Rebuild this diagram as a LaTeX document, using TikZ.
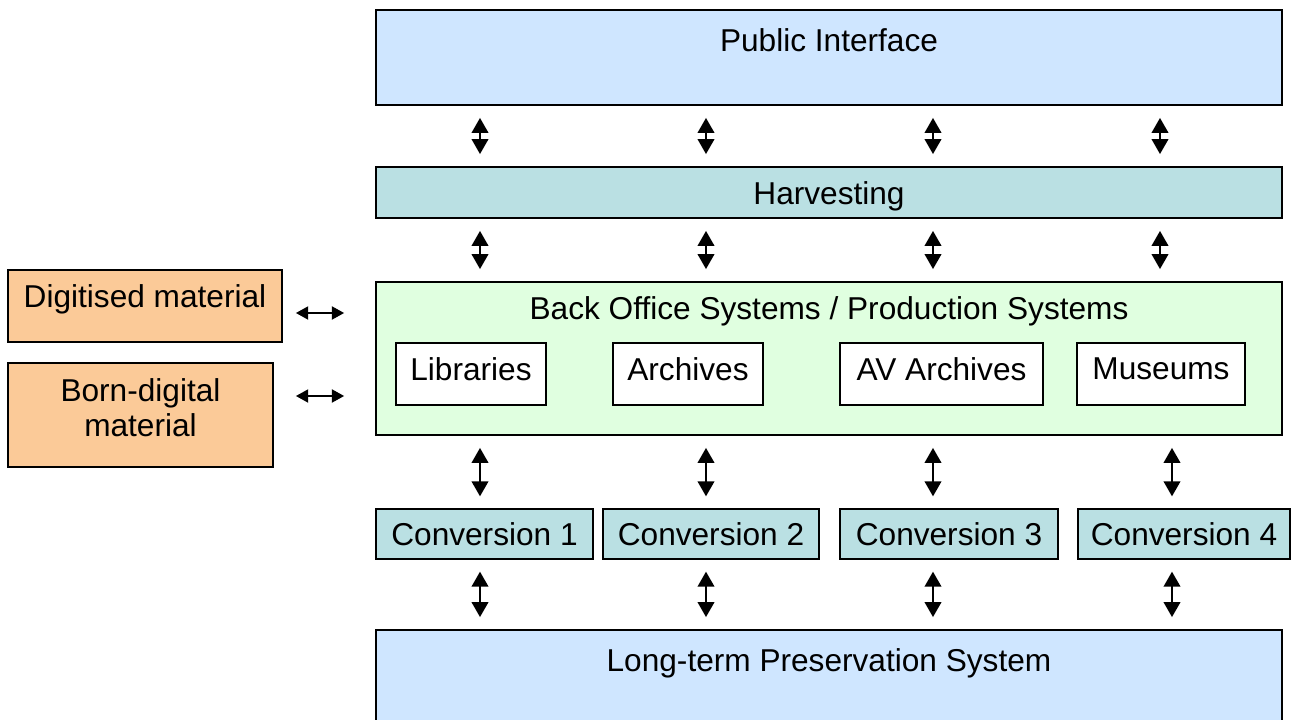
\documentclass[tikz,border=0pt]{standalone}
\usepackage{fontspec}
\setmainfont{Liberation Sans}
\usepackage{xcolor}
\usepackage{tikz}
\usetikzlibrary{arrows.meta}
\definecolor{paleBlue}{HTML}{CFE6FF}
\definecolor{paleTeal}{HTML}{BAE0E3}
\definecolor{paleGreen}{HTML}{E0FFE0}
\definecolor{paleOrange}{HTML}{FBCA98}

\begin{document}
\begin{tikzpicture}[
    x=0.02cm, y=-0.02cm,
    font=\fontsize{18}{20}\selectfont,
    layer/.style={rectangle, draw=black, line width=1.1pt, inner sep=0pt, align=center},
    unit/.style={rectangle, draw=black, line width=0.8pt, inner sep=0pt, align=center, fill=white, text depth=0.2cm},
    convbox/.style={rectangle, draw=black, line width=0.8pt, inner sep=0pt, align=center, fill=paleTeal, minimum height=1cm},
    source/.style={rectangle, draw=black, line width=1.1pt, inner sep=0pt, align=center, fill=paleOrange},
    biarrow/.style={arrows={Triangle[width=9.5pt,length=8.5pt]-Triangle[width=9.5pt,length=8.5pt]}, line width=0.9pt, shorten <=0.24cm, shorten >=0.24cm},
    sidearrow/.style={arrows={Triangle[width=7.5pt,length=7pt]-Triangle[width=7.5pt,length=7pt]}, line width=0.9pt}
]
\useasboundingbox (0,0) rectangle (1296,720);

% Layers
\node[layer, fill=paleBlue, minimum width=18.12cm, minimum height=1.9cm,
      label={[anchor=center, yshift=-0.62cm]north:Public Interface}] (public) at (829,57.5) {};
\node[layer, fill=paleTeal, minimum width=18.12cm, minimum height=1.02cm, text height=17.5pt] (harvest) at (829,192.5) {Harvesting};
\node[layer, fill=paleGreen, minimum width=18.12cm, minimum height=3.06cm,
      label={[anchor=center, yshift=-0.6cm]north:Back Office Systems / Production Systems}] (backoffice) at (829,358.5) {};
\node[layer, fill=paleBlue, minimum width=18.12cm, minimum height=2cm,
      label={[anchor=center, yshift=-0.68cm]north:Long-term Preservation System}] (preserve) at (829,680) {};

% Back office units
\node[unit, minimum width=3cm, minimum height=1.24cm] (libraries) at (471,374) {Libraries};
\node[unit, minimum width=3cm, minimum height=1.24cm] (archives) at (688,374) {Archives};
\node[unit, minimum width=4.06cm, minimum height=1.24cm] (avarchives) at (941.5,374) {AV Archives};
\node[unit, minimum width=3.36cm, minimum height=1.24cm] (museums) at (1161,374) {Museums};

% Conversion
\node[convbox, minimum width=4.34cm] (conv1) at (484.5,534) {Conversion 1};
\node[convbox, minimum width=4.32cm] (conv2) at (711,534) {Conversion 2};
\node[convbox, minimum width=4.36cm] (conv3) at (949,534) {Conversion 3};
\node[convbox, minimum width=4.24cm] (conv4) at (1184,534) {Conversion 4};

% Sources
\node[source, minimum width=5.48cm, minimum height=1.44cm,
      label={[anchor=center, yshift=-0.6cm]north:Digitised material}] (digitised) at (145,306) {};
\node[source, minimum width=5.3cm, minimum height=2.08cm,
      label={[anchor=center, align=center, yshift=-0.91cm]north:Born-digital\\material}] (borndigital) at (140.5,415) {};

% Columns
\coordinate (colA) at (480,0);
\coordinate (colB) at (706,0);
\coordinate (colC) at (933,0);
\coordinate (colD) at (1160,0);
\coordinate (colE) at (1172,0);

% Edges
\foreach \col in {colA, colB, colC, colD} {
    \draw[biarrow] (public.south -| \col) -- (harvest.north -| \col);
    \draw[biarrow] (harvest.south -| \col) -- (backoffice.north -| \col);
}
\foreach \col/\conv in {colA/conv1, colB/conv2, colC/conv3, colE/conv4} {
    \draw[biarrow] (backoffice.south -| \col) -- (\conv.north -| \col);
    \draw[biarrow] (\conv.south -| \col) -- (preserve.north -| \col);
}

\draw[sidearrow, shorten <=0.26cm, shorten >=0.62cm] ([yshift=-0.14cm]digitised.east) -- ([yshift=-0.14cm]digitised.east -| backoffice.west);
\draw[sidearrow, shorten <=0.44cm, shorten >=0.62cm] ([yshift=0.38cm]borndigital.east) -- ([yshift=0.38cm]borndigital.east -| backoffice.west);

\end{tikzpicture}
\end{document}
